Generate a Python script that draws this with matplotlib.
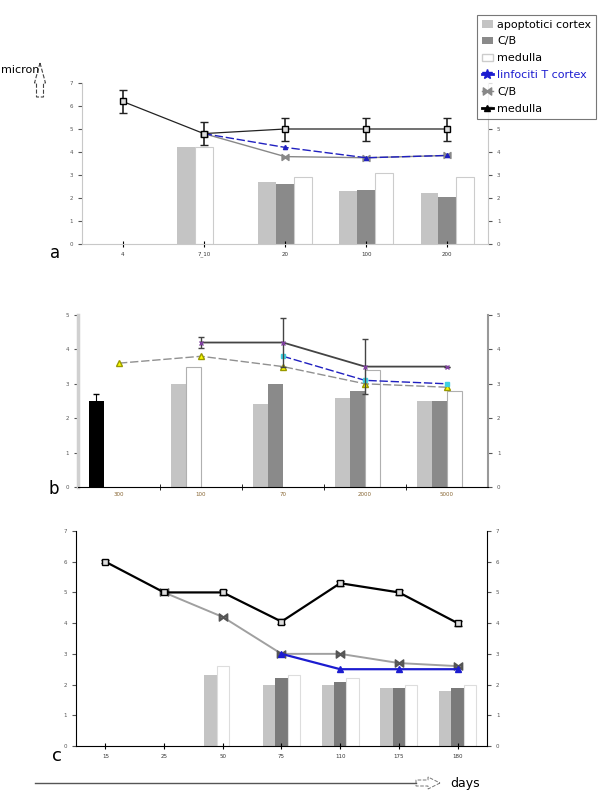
import numpy as np
import matplotlib.pyplot as plt
from matplotlib.lines import Line2D
from matplotlib.patches import Patch, FancyArrow

nan = np.nan

# panel a
a_days = ["4", "7_10", "20", "100", "200"]
a_apopt_cortex = [nan, 4.2, 2.7, 2.3, 2.2]
a_apopt_cb = [nan, nan, 2.6, 2.35, 2.05]
a_apopt_medulla = [nan, 4.2, 2.9, 3.1, 2.9]
a_linf_cortex = [nan, 4.8, 4.2, 3.75, 3.85]
a_linf_cb = [nan, 4.8, 3.8, 3.75, 3.85]
a_linf_medulla = [6.2, 4.8, 5.0, 5.0, 5.0]
a_linf_medulla_err = [0.5, 0.5, 0.5, 0.5, 0.5]

# panel b
b_days = ["300", "100", "70", "2000", "5000"]
b_control = [2.5, nan, nan, nan, nan]
b_apopt_cortex = [nan, 3.0, 2.4, 2.6, 2.5]
b_apopt_cb = [nan, nan, 3.0, 2.8, 2.5]
b_apopt_medulla = [nan, 3.5, nan, 3.4, 2.8]
b_linf_cortex = [nan, nan, 3.8, 3.1, 3.0]
b_linf_cb = [3.6, 3.8, 3.5, 3.0, 2.9]
b_linf_medulla = [nan, 4.2, 4.2, 3.5, 3.5]
b_linf_medulla_err = [0, 0.15, 0.7, 0.8, 0]

# panel c
c_days = ["15", "25", "50", "75", "110", "175", "180"]
c_apopt_cortex = [nan, nan, 2.3, 2.0, 2.0, 1.9, 1.8]
c_apopt_cb = [nan, nan, nan, 2.2, 2.1, 1.9, 1.9]
c_apopt_medulla = [nan, nan, 2.6, 2.3, 2.2, 2.0, 2.0]
c_linf_cortex = [nan, nan, nan, 3.0, 2.5, 2.5, 2.5]
c_linf_cb = [nan, 5.0, 4.2, 3.0, 3.0, 2.7, 2.6]
c_linf_medulla = [6.0, 5.0, 5.0, 4.05, 5.3, 5.0, 4.0]
c_linf_medulla_err = [0.05, 0.05, 0.08, 0.08, 0.08, 0.08, 0.08]

LIGHT = "#c4c4c4"
DARK = "#8a8a8a"


def packed_bars(ax, series, styles, width, start):
    # bars of one group sit side by side, skipping missing values
    n = len(series[0])
    for i in range(n):
        k = 0
        for vals, st in zip(series, styles):
            v = vals[i]
            if np.isnan(v):
                continue
            ax.bar(i + start + (k + 0.5) * width, v, width=width, **st)
            k += 1


def style_axes(ax, ymax, labels, spine_color, tick_at_bounds=False):
    n = len(labels)
    ax.set_xlim(-0.5, n - 0.5)
    ax.set_ylim(0, ymax)
    ax.set_yticks(range(ymax + 1))
    ax.spines["top"].set_visible(False)
    for s in ["left", "right", "bottom"]:
        ax.spines[s].set_color(spine_color)
    ax.tick_params(axis="y", labelsize=4, length=3, right=True, labelright=True,
                   colors="#555555")
    if tick_at_bounds:
        ax.set_xticks(np.arange(n), labels, fontsize=4, color="#886633")
        ax.set_xticks(np.arange(0.5, n - 1), minor=True)
        ax.tick_params(axis="x", which="major", length=0)
        ax.tick_params(axis="x", which="minor", length=4, direction="inout")
    else:
        ax.set_xticks(np.arange(n), labels, fontsize=4, color="#333333")
        ax.tick_params(axis="x", length=4, direction="inout")


fig = plt.figure(figsize=(6.09, 8.01), dpi=100)

W, H = 609, 801


def add_axes_px(left, right, top, bottom):
    return fig.add_axes([left / W, 1 - bottom / H, (right - left) / W, (bottom - top) / H])


# ---- panel a
ax = add_axes_px(82, 488, 83, 244)
wa = 0.22
packed_bars(ax, [a_apopt_cortex, a_apopt_cb, a_apopt_medulla],
            [dict(color=LIGHT), dict(color=DARK),
             dict(color="white", edgecolor="#cccccc", linewidth=0.8)],
            wa, -1.5 * wa)
x = np.arange(len(a_days))
ax.plot(x, a_linf_cb, color="#888888", lw=1.0, marker=r"$\bowtie$", ms=5, zorder=3)
ax.plot(x, a_linf_cortex, color="#2020c0", lw=1.0, ls=(0, (6, 2)), marker="^", ms=3, zorder=4)
ax.errorbar(x, a_linf_medulla, yerr=a_linf_medulla_err, color="#222222", lw=0.9,
            capsize=3, elinewidth=1.2, marker="s", ms=4, mfc="#dddddd", mec="black", zorder=5)
style_axes(ax, 7, a_days, "#c8c8c8")
# the legend box hides the top right labels of this panel
for t in ax.yaxis.get_major_ticks()[6:]:
    t.label2.set_visible(False)
fig.text(50 / W, 1 - 253 / H, "a", fontsize=12, va="center", ha="left")

# ---- panel b
ax = add_axes_px(78, 488, 315, 487)
wb = 0.185
packed_bars(ax, [b_control, b_apopt_cortex, b_apopt_cb, b_apopt_medulla],
            [dict(color="black", yerr=0.2, capsize=2, error_kw=dict(lw=0.8)),
             dict(color=LIGHT), dict(color=DARK),
             dict(color="white", edgecolor="#b0b0b0", linewidth=0.8)],
            wb, -2 * wb)
x = np.arange(len(b_days))
ax.plot(x, b_linf_cb, color="#909090", lw=1.0, ls=(0, (6, 2)), marker="^", ms=5,
        mfc="#ffff00", mec="#999900", zorder=4)
ax.plot(x, b_linf_cortex, color="#2020c0", lw=1.0, ls=(0, (6, 2)), marker="s", ms=2.5,
        mfc="#40d0e0", mec="#40d0e0", zorder=4)
ax.errorbar(x, b_linf_medulla, yerr=b_linf_medulla_err, color="#444444", lw=1.3,
            capsize=2, elinewidth=1.0, marker="x", ms=3, mec="#8040a0", zorder=5)
style_axes(ax, 5, b_days, "black", tick_at_bounds=True)
ax.spines["left"].set_color("#d0d0d0")
ax.spines["left"].set_linewidth(2.5)
ax.spines["right"].set_color("#999999")
ax.spines["right"].set_linewidth(1.5)
fig.text(48 / W, 1 - 489 / H, "b", fontsize=12, va="center", ha="left")

# ---- panel c
ax = add_axes_px(76, 487, 531, 746)
wc = 0.21
packed_bars(ax, [c_apopt_cortex, c_apopt_cb, c_apopt_medulla],
            [dict(color=LIGHT), dict(color="#7a7a7a"),
             dict(color="white", edgecolor="#dddddd", linewidth=0.8)],
            wc, -1.5 * wc)
x = np.arange(len(c_days))
ax.plot(x, c_linf_cb, color="#a0a0a0", lw=1.4, marker=r"$\bowtie$", ms=6, mec="#555555", zorder=3)
ax.plot(x, c_linf_cortex, color="#1c1cd0", lw=1.6, marker="^", ms=4, zorder=4)
ax.errorbar(x, c_linf_medulla, yerr=c_linf_medulla_err, color="black", lw=1.6,
            capsize=3, elinewidth=1.0, marker="s", ms=4, mfc="#dddddd", mec="black", zorder=5)
style_axes(ax, 7, c_days, "black")
fig.text(52 / W, 1 - 756 / H, "c", fontsize=13, va="center", ha="left")

# ---- legend
handles = [
    Patch(facecolor=LIGHT, edgecolor="none"),
    Patch(facecolor=DARK, edgecolor="none"),
    Patch(facecolor="white", edgecolor="#cccccc"),
    Line2D([], [], color="#1c1cd0", lw=2, marker="*", ms=7),
    Line2D([], [], color="#888888", lw=1, marker=r"$\bowtie$", ms=6),
    Line2D([], [], color="black", lw=2, marker="^", ms=5),
]
labels = ["apoptotici cortex", "C/B", "medulla", "linfociti T cortex", "C/B", "medulla"]
leg = fig.legend(handles, labels, loc="upper right", bbox_to_anchor=(602 / W, 1 - 9 / H),
                 fontsize=8, frameon=True, fancybox=False, handlelength=1.0,
                 handletextpad=0.4, labelspacing=0.62, borderpad=0.45)
leg.get_frame().set_edgecolor("#555555")
leg.get_frame().set_linewidth(0.8)
leg.get_texts()[3].set_color("#1c1cd0")

# ---- "micron" label with dashed arrow
fig.text(1 / W, 1 - 70 / H, "micron", fontsize=8, ha="left", va="center")
fig.add_artist(FancyArrow(40 / W, 1 - 97 / H, 0, 34 / H, width=7 / W,
                          head_width=11 / W, head_length=20 / H,
                          length_includes_head=True, transform=fig.transFigure,
                          facecolor="none", edgecolor="#444444", ls="--", lw=0.8))

# ---- "days" axis arrow
fig.add_artist(Line2D([35 / W, 416 / W], [1 - 783 / H, 1 - 783 / H],
                      transform=fig.transFigure, color="#555555", lw=1.0))
fig.add_artist(FancyArrow(416 / W, 1 - 783 / H, 24 / W, 0, width=6 / H,
                          head_width=12 / H, head_length=12 / W,
                          length_includes_head=True, transform=fig.transFigure,
                          facecolor="none", edgecolor="#777777", ls="--", lw=0.7))
fig.text(450 / W, 1 - 783 / H, "days", fontsize=9, ha="left", va="center")

fig.savefig("out.png", dpi=100)
